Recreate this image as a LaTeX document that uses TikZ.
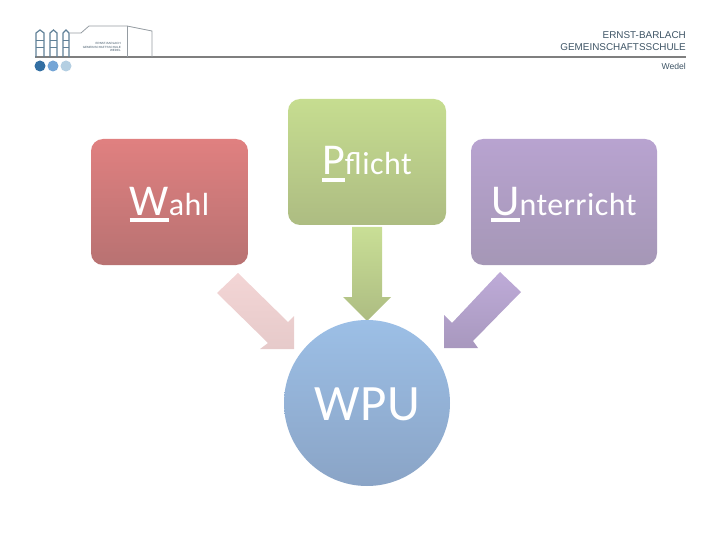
\documentclass[tikz,border=0pt]{standalone}
\usepackage{fontspec}
\setmainfont{Carlito}[LetterSpace=1.5]
\newfontfamily\headfont{Liberation Sans}
\newcommand{\capsize}{\fontsize{44}{44}\selectfont}
\newcommand{\restsize}{\fontsize{32}{32}\selectfont}
\newcommand{\firstcap}[1]{\setbox0\hbox{\capsize #1}\rlap{\rule[-7pt]{\wd0}{4pt}}\box0}
\definecolor{headgray}{HTML}{7F7F7F}
\definecolor{headtext}{HTML}{3F5566}
\definecolor{logoline}{HTML}{959CA2}
\definecolor{windowline}{HTML}{5F8097}
\definecolor{dotA}{HTML}{336FA3}
\definecolor{dotB}{HTML}{74A5D6}
\definecolor{dotC}{HTML}{B4CFE2}
\definecolor{wahltop}{HTML}{E08080}
\definecolor{wahlbot}{HTML}{B87272}
\definecolor{pflichttop}{HTML}{C6DD90}
\definecolor{pflichtbot}{HTML}{ADBC82}
\definecolor{unttop}{HTML}{B8A3D0}
\definecolor{untbot}{HTML}{A597B6}
\definecolor{wputop}{HTML}{9CBFE6}
\definecolor{wpubot}{HTML}{8AA4C6}
\definecolor{pinktop}{HTML}{F3D5D5}
\definecolor{pinkbot}{HTML}{E6CACA}
\definecolor{lilatop}{HTML}{BEABD8}
\definecolor{lilabot}{HTML}{A898BE}
\tikzset{
  box/.style={rounded corners=12pt, text=white, minimum height=126pt, inner sep=0pt,
    text height=30pt, text depth=4pt},
  wahlbox/.style={box, minimum width=157pt, top color=wahltop, bottom color=wahlbot},
  pflichtbox/.style={box, minimum width=158pt, top color=pflichttop, bottom color=pflichtbot},
  unterrichtbox/.style={box, minimum width=186pt, top color=unttop, bottom color=untbot},
  window/.style={draw=windowline, line width=1.2pt},
}
\begin{document}
\begin{tikzpicture}[x=1pt, y=-1pt]
  \useasboundingbox (0,0) rectangle (720,540);

  % Header, school logo
  \draw[headgray, line width=1.4pt] (35,57) -- (686,57);
  \draw[logoline, line width=0.8pt] (70,33) -- (81,33) -- (89,26) -- (127,26) -- (152,31) -- (152,57);
  \draw[logoline, line width=0.6pt] (127,26) -- (127,57);
  \foreach \wx/\ww in {36/8, 50/7, 63/6} {
    \draw[window] (\wx,33) -- (\wx+\ww/2,30) -- (\wx+\ww,33) -- (\wx+\ww,57) (\wx,33) -- (\wx,57);
    \foreach \wy in {40, 47}
      \draw[windowline, line width=0.7pt] (\wx,\wy) -- (\wx+\ww,\wy);
  }
  \node[left, inner sep=0pt, align=right, text=headtext, font=\headfont\fontsize{3}{3.6}\selectfont] (logotext) at (121,47)
    {ERNST-BARLACH\\GEMEINSCHAFTSSCHULE\\WEDEL};
  \fill[dotA] (40,66) circle (5.5);
  \fill[dotB] (53,66) circle (5.5);
  \fill[dotC] (66,66) circle (5.5);
  \node[left, inner sep=0pt, text=headtext, font=\headfont\fontsize{9.9}{9.9}\selectfont] (schoola) at (686,35.5) {ERNST-BARLACH};
  \node[left, inner sep=0pt, text=headtext, font=\headfont\fontsize{9.9}{9.9}\selectfont] (schoolb) at (686,47.5) {GEMEINSCHAFTSSCHULE};
  \node[left, inner sep=0pt, text=headtext, font=\headfont\fontsize{8.6}{8.6}\selectfont] (schoolc) at (686,66) {Wedel};

  % Arrows
  \shade[top color=pinktop, bottom color=pinkbot] (238,273) -- (217,293) -- (268,343) -- (260,349)
    -- (294,349) -- (294,316) -- (288,322) -- cycle;
  \shade[top color=pflichttop!95!white, bottom color=pflichtbot] (352,227) -- (382,227) -- (382,297) -- (391,297)
    -- (367,321) -- (343,297) -- (352,297) -- cycle;
  \shade[top color=lilatop, bottom color=lilabot] (500,272) -- (521,292) -- (473,341) -- (478,348)
    -- (444,348) -- (444,315) -- (452,323) -- cycle;

  % Boxes
  \node[wahlbox] (wahl) at (169.5,202) {\firstcap{W}\restsize ahl};
  \node[pflichtbox] (pflicht) at (367,162) {\firstcap{P}\restsize flicht};
  \node[unterrichtbox] (unterricht) at (564,202) {\firstcap{U}\restsize nterricht};
  \node[circle, minimum size=166pt, inner sep=0pt, text=white, top color=wputop, bottom color=wpubot,
    text height=36pt, text depth=2pt, font=\fontsize{51}{51}\selectfont] (wpu) at (367,403) {WPU};
\end{tikzpicture}
\end{document}
